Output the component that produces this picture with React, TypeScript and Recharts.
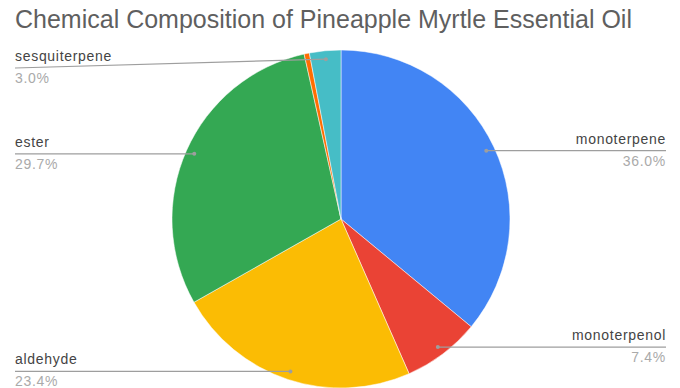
import React from 'react';
import { PieChart, Pie, Cell } from 'recharts';

const categories = ['monoterpene', 'monoterpenol', 'aldehyde', 'ester', 'other', 'sesquiterpene'];
const shares = [36.0, 7.4, 23.4, 29.7, 0.5, 3.0];
const colors = ['#4285F4', '#EA4335', '#FBBC04', '#34A853', '#FF6D01', '#46BDC6'];
const labelled = [true, true, true, true, false, true];

const data = categories.map((name, i) => ({ name, value: shares[i], idx: i }));
const total = shares.reduce((a, b) => a + b, 0);

const RAD = Math.PI / 180;

const renderLabel = (props: any) => {
  const { cx, cy, midAngle, outerRadius, payload } = props;
  const idx = payload?.idx ?? props.index;
  if (!labelled[idx]) return null;
  const r = outerRadius * 0.95;
  const dx = cx + r * Math.cos(-midAngle * RAD);
  const dy = cy + r * Math.sin(-midAngle * RAD);
  const right = dx > cx;
  // keep the top label clear of the title
  const lineY = Math.max(dy, 68);
  const endX = right ? 666 : 15;
  const pct = ((shares[idx] / total) * 100).toFixed(1) + '%';
  return (
    <g key={`lbl-${idx}`}>
      <polyline
        points={`${dx},${dy} ${endX},${lineY}`}
        fill="none"
        stroke="#9e9e9e"
        strokeWidth={1.2}
      />
      <circle cx={dx} cy={dy} r={2} fill="#9e9e9e" />
      <text
        x={endX}
        y={lineY - 7}
        textAnchor={right ? 'end' : 'start'}
        fontSize={14}
        letterSpacing={0.7}
        fill="#444"
        fontFamily="Liberation Sans, Arial, sans-serif"
      >
        {categories[idx]}
      </text>
      <text
        x={endX}
        y={lineY + 15}
        textAnchor={right ? 'end' : 'start'}
        fontSize={14}
        letterSpacing={0.7}
        fill="#aaaaaa"
        fontFamily="Liberation Sans, Arial, sans-serif"
      >
        {pct}
      </text>
    </g>
  );
};

const App = () => {
  return (
    <div style={{ position: 'absolute', left: 0, top: 0, width: 680, height: 388, background: '#fff' }}>
      <div
        style={{
          position: 'absolute',
          left: 15,
          top: 5,
          fontFamily: 'Liberation Sans, Arial, sans-serif',
          fontSize: 25,
          color: '#5f5f5f',
          whiteSpace: 'nowrap',
        }}
      >
        Chemical Composition of Pineapple Myrtle Essential Oil
      </div>
      <PieChart
        width={680}
        height={388}
        margin={{ top: 0, right: 0, bottom: 0, left: 0 }}
        style={{ position: 'absolute', left: 0, top: 0 }}
      >
        <Pie
          data={data}
          dataKey="value"
          nameKey="name"
          cx={341}
          cy={219}
          outerRadius={169}
          startAngle={90}
          endAngle={-270}
          stroke="#ffffff"
          strokeWidth={0.5}
          labelLine={false}
          label={renderLabel}
          isAnimationActive={false}
        >
          {data.map((entry, index) => (
            <Cell key={`cell-${index}`} fill={colors[index]} />
          ))}
        </Pie>
      </PieChart>
    </div>
  );
};

export default App;
